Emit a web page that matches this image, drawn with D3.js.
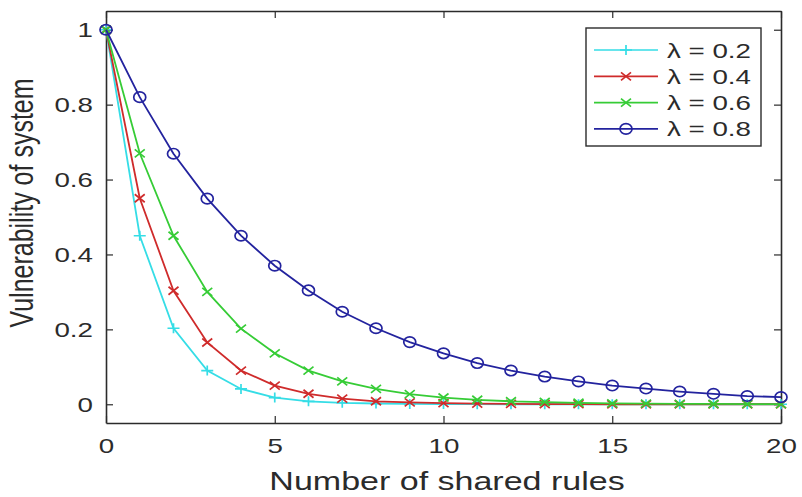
<!DOCTYPE html>
<html>
<head>
<meta charset="utf-8">
<script src="https://cdn.jsdelivr.net/npm/d3@7"></script>
<style>
  body { margin: 0; background: #fff; }
  text { font-family: "Liberation Sans", Arial, sans-serif; fill: #2b2b2b; }
</style>
</head>
<body>
<div class="chart"></div>
<script>
//데이터
var xValues = [0, 1, 2, 3, 4, 5, 6, 7, 8, 9, 10, 11, 12, 13, 14, 15, 16, 17, 18, 19, 20];
var lam02 = [1, 0.45, 0.203, 0.09, 0.041, 0.018, 0.008, 0.004, 0.002, 0.001, 0.0005, 0.0002, 0.0001, 0, 0, 0, 0, 0, 0, 0, 0];
var lam04 = [1, 0.55, 0.303, 0.165, 0.09, 0.05, 0.028, 0.015, 0.008, 0.005, 0.003, 0.0015, 0.001, 0.0005, 0.0003, 0.0001, 0, 0, 0, 0, 0];
var lam06 = [1, 0.67, 0.45, 0.3, 0.202, 0.136, 0.09, 0.061, 0.041, 0.027, 0.018, 0.012, 0.008, 0.006, 0.004, 0.0025, 0.0017, 0.0011, 0.0008, 0.0005, 0.0003];
var lam08 = [1, 0.82, 0.669, 0.549, 0.45, 0.37, 0.304, 0.247, 0.203, 0.166, 0.136, 0.11, 0.09, 0.074, 0.061, 0.05, 0.042, 0.034, 0.028, 0.022, 0.019];
var seriesNames = ["λ = 0.2", "λ = 0.4", "λ = 0.6", "λ = 0.8"];
var xTicks = [0, 5, 10, 15, 20];
var yTicks = [0, 0.2, 0.4, 0.6, 0.8, 1];

var colors = ["#35dde6", "#cf2b2b", "#36cc36", "#23239e"];
var markers = ["plus", "x", "x", "circle"];
var allSeries = [lam02, lam04, lam06, lam08];

var w = 802;
var h = 497;
var padL = 106, padR = 781, padT = 11, padB = 423;
var stretch = 1.32; // 원본 글자가 가로로 늘어나 있음

var svg = d3
  .select(".chart")
  .append("svg")
  .attr("width", w)
  .attr("height", h);

var xScale = d3.scaleLinear().domain([0, 20]).range([padL, padR]);
var yScale = d3.scaleLinear().domain([-0.05, 1.05]).range([padB, padT]);

function widen(sel, f) {
  sel.each(function() {
    var len = this.getComputedTextLength();
    this.setAttribute("textLength", len * (f || stretch));
    this.setAttribute("lengthAdjust", "spacingAndGlyphs");
  });
}

//축
var xAxis = d3.axisBottom(xScale).tickValues(xTicks).tickSizeInner(-7).tickSizeOuter(0).tickPadding(14);
var yAxis = d3.axisLeft(yScale).tickValues(yTicks).tickSizeInner(-7).tickSizeOuter(0).tickPadding(13)
  .tickFormat(function(d) { return d == 0 || d == 1 ? d : d3.format(".1f")(d); });

var gx = svg.append("g").attr("transform", "translate(0," + padB + ")").call(xAxis);
var gy = svg.append("g").attr("transform", "translate(" + padL + ",0)").call(yAxis);
var gxTop = svg.append("g").attr("transform", "translate(0," + padT + ")")
  .call(d3.axisTop(xScale).tickValues(xTicks).tickSizeInner(-7).tickSizeOuter(0).tickFormat(""));
var gyRight = svg.append("g").attr("transform", "translate(" + padR + ",0)")
  .call(d3.axisRight(yScale).tickValues(yTicks).tickSizeInner(-7).tickSizeOuter(0).tickFormat(""));

[gx, gy, gxTop, gyRight].forEach(function(g) {
  g.select(".domain").attr("stroke", "#2b2b2b").attr("stroke-width", 1.6);
  g.selectAll(".tick line").attr("stroke", "#2b2b2b").attr("stroke-width", 1.2);
  g.selectAll(".tick text")
    .attr("font-size", "21px")
    .attr("font-family", "Liberation Sans, Arial, sans-serif")
    .attr("fill", "#2b2b2b");
});
gx.selectAll(".tick text").attr("dy", "0.75em");
widen(gx.selectAll(".tick text"));
widen(gy.selectAll(".tick text"));

//선 그리기
var line = d3.line()
  .x(function(d, i) { return xScale(xValues[i]); })
  .y(function(d) { return yScale(d); });

function drawMarker(g, type, cx, cy, color) {
  if (type == "circle") {
    g.append("ellipse")
      .attr("cx", cx).attr("cy", cy)
      .attr("rx", 6).attr("ry", 5.2)
      .attr("fill", "none")
      .attr("stroke", color)
      .attr("stroke-width", 1.7);
  } else if (type == "x") {
    g.append("path")
      .attr("d", "M" + (cx - 5) + "," + (cy - 4) + "L" + (cx + 5) + "," + (cy + 4) +
        "M" + (cx - 5) + "," + (cy + 4) + "L" + (cx + 5) + "," + (cy - 4))
      .attr("stroke", color)
      .attr("stroke-width", 1.7);
  } else {
    g.append("path")
      .attr("d", "M" + (cx - 6) + "," + cy + "L" + (cx + 6) + "," + cy +
        "M" + cx + "," + (cy - 5) + "L" + cx + "," + (cy + 5))
      .attr("stroke", color)
      .attr("stroke-width", 1.7);
  }
}

for (var s = 0; s < allSeries.length; s++) {
  var g = svg.append("g");
  g.append("path")
    .datum(allSeries[s])
    .attr("d", line)
    .attr("fill", "none")
    .attr("stroke", colors[s])
    .attr("stroke-width", 1.8);
  for (var j = 0; j < xValues.length; j++) {
    drawMarker(g, markers[s], xScale(xValues[j]), yScale(allSeries[s][j]), colors[s]);
  }
}

//범례
var legend = svg.append("g");
legend.append("rect")
  .attr("x", 586).attr("y", 28)
  .attr("width", 175).attr("height", 118)
  .attr("fill", "#fff")
  .attr("stroke", "#2b2b2b")
  .attr("stroke-width", 1.4);

for (var k = 0; k < seriesNames.length; k++) {
  var ly = 50 + k * 26.3;
  legend.append("line")
    .attr("x1", 594).attr("x2", 658)
    .attr("y1", ly).attr("y2", ly)
    .attr("stroke", colors[k])
    .attr("stroke-width", 1.7);
  drawMarker(legend, markers[k], 626, ly, colors[k]);
  var t = legend.append("text")
    .text(seriesNames[k])
    .attr("x", 667)
    .attr("y", ly)
    .attr("dy", "0.36em")
    .attr("font-size", "21px");
  widen(t);
}

//축 제목
var xl = svg.append("text")
  .text("Number of shared rules")
  .attr("x", 447)
  .attr("y", 490)
  .attr("text-anchor", "middle")
  .attr("font-size", "25px");
widen(xl, 1.36);

svg.append("text")
  .text("Vulnerability of system")
  .attr("transform", "translate(33,203) rotate(-90) scale(1,1.3)")
  .attr("text-anchor", "middle")
  .attr("font-size", "25px");
</script>
</body>
</html>
